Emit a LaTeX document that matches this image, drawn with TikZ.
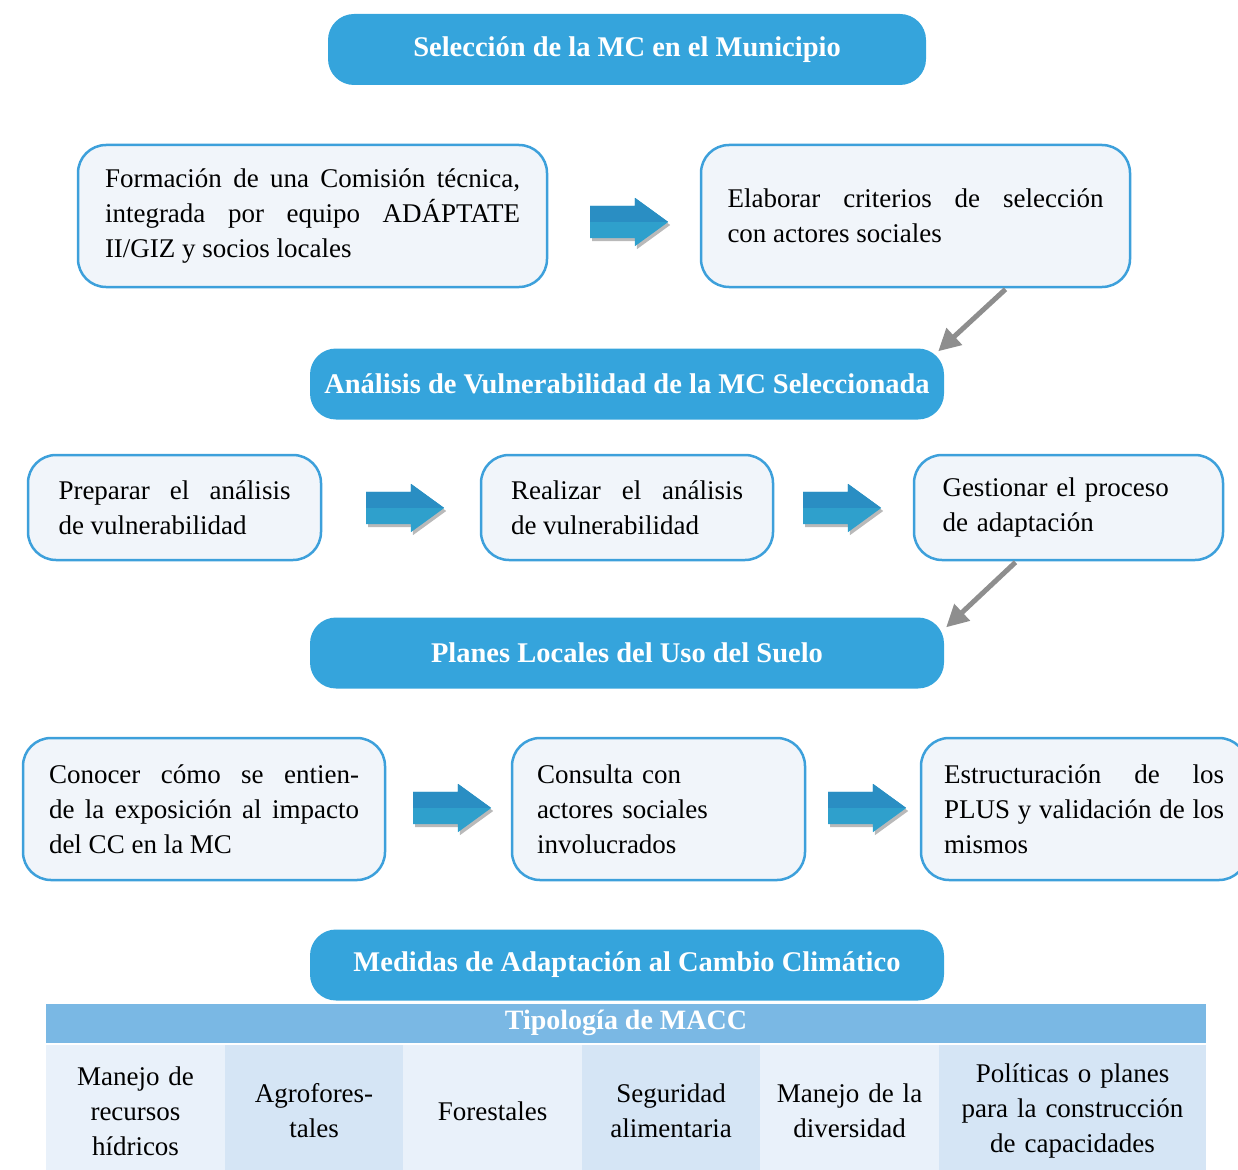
\documentclass[tikz,border=0pt]{standalone}
\usepackage{fontspec}
\setmainfont{Liberation Serif}
\usetikzlibrary{shapes.arrows,arrows.meta,shadows}
\definecolor{hdr}{HTML}{35A4DC}
\definecolor{bdr}{HTML}{3DA0DB}
\definecolor{boxfill}{HTML}{F1F5FA}
\definecolor{arrtop}{HTML}{2A8EC3}
\definecolor{arrbot}{HTML}{2FA0CC}
\definecolor{gline}{HTML}{8E8E8E}
\definecolor{thead}{HTML}{7AB8E4}
\definecolor{cellA}{HTML}{E9F1FA}
\definecolor{cellB}{HTML}{D5E5F5}
\begin{document}
\begin{tikzpicture}[x=1pt,y=-1pt,
  hdrbox/.style={fill=hdr, text=white, rounded corners=26pt, minimum width=#1,
    minimum height=71pt, inner sep=0pt, font=\fontsize{28.5}{32}\selectfont\bfseries},
  stepbox/.style n args={4}{draw=bdr, line width=2.5pt, fill=boxfill, rounded corners=28pt,
    minimum width=#1, minimum height=#2, text width=#3, inner sep=0pt, align=#4,
    font=\fontsize{27}{35}\selectfont},
  blockarrow/.style={shape=single arrow, anchor=tail, minimum height=78pt, minimum width=0pt,
    inner xsep=0pt, inner ysep=16pt, single arrow head extend=8pt,
    single arrow tip angle=72, single arrow head indent=0pt, fill=arrbot,
    path picture={\fill[arrtop] (path picture bounding box.north west) rectangle (path picture bounding box.east);},
    general shadow={fill=gray!55, shadow xshift=2pt, shadow yshift=-3pt}},
  gconn/.style={draw=gline, line width=5pt, -{Triangle[length=22pt,width=22pt]}},
  cell/.style 2 args={fill=#2, minimum width=#1, minimum height=132pt, inner sep=0pt,
    text width=#1-8pt, align=center, font=\fontsize{27}{35}\selectfont},
  thdr/.style={fill=thead, text=white, minimum width=1160pt, minimum height=39pt,
    inner sep=0pt, font=\fontsize{28}{30}\selectfont\bfseries}
]
\useasboundingbox (0,0) rectangle (1238,1169);

% headers
\node[hdrbox=598pt] (H1) at (627,49.5) {Selección de la MC en el Municipio};
\node[hdrbox=634pt] (H2) at (627,384) {Análisis de Vulnerabilidad de la MC Seleccionada};
\node[hdrbox=634pt] (H3) at (627,653) {Planes Locales del Uso del Suelo};
\node[hdrbox=634pt] (H4) at (627,965) {Medidas de Adaptación al Cambio Climático};

% row 1
\node[stepbox={469pt}{142pt}{415pt}{justify}] (A) at (312.5,216)
  {Formación de una Comisión técnica,\linebreak integrada por equipo ADÁPTATE\linebreak II/GIZ y socios locales};
\node[stepbox={429pt}{142pt}{376pt}{justify}] (B) at (915.5,216)
  {Elaborar criterios de selección\linebreak con actores sociales};
\node[blockarrow] (a1) at (590,222) {};

% row 2
\node[stepbox={293pt}{105pt}{232pt}{justify}] (C) at (174.5,507.5)
  {Preparar el análisis\linebreak de vulnerabilidad};
\node[stepbox={292pt}{105pt}{232pt}{justify}] (D) at (627,507.5)
  {Realizar el análisis\linebreak de vulnerabilidad};
\node[stepbox={309pt}{105pt}{252pt}{left}] (E) at (1068.5,507.5)
  {Gestionar el proceso\\de adaptación};
\node[blockarrow] (a2) at (366,508) {};
\node[blockarrow] (a3) at (803,508) {};

% row 3
\node[stepbox={362pt}{142pt}{310pt}{justify}] (F) at (204,809)
  {Conocer cómo se entien-\linebreak de la exposición al impacto\linebreak del CC en la MC};
\node[stepbox={293pt}{142pt}{243pt}{left}] (G) at (658.5,809)
  {Consulta con\\actores sociales\\involucrados};
\node[stepbox={326pt}{142pt}{280pt}{justify}] (H) at (1084,809)
  {Estructuración de los\linebreak PLUS y validación de los\linebreak mismos};
\node[blockarrow] (a4) at (413,808) {};
\node[blockarrow] (a5) at (828,808) {};

% gray connectors
\draw[gconn] ([xshift=90pt,yshift=-1pt]B.south) -- ([xshift=-6pt,yshift=-3pt]H2.north east);
\draw[gconn] ([xshift=-53pt,yshift=-1pt]E.south) -- ([xshift=2pt,yshift=-10pt]H3.north east);

% table
\node[thdr] (T) at (626,1023) {Tipología de MACC};
\node[cell={179pt}{cellA}] (t1) at (135.5,1111) {Manejo de\\recursos\\hídricos};
\node[cell={178pt}{cellB}] (t2) at (314,1111) {Agrofores-\\tales};
\node[cell={179pt}{cellA}] (t3) at (492.5,1111) {Forestales};
\node[cell={178pt}{cellB}] (t4) at (671,1111) {Seguridad\\alimentaria};
\node[cell={179pt}{cellA}] (t5) at (849.5,1111) {Manejo de la\\diversidad};
\node[cell={267pt}{cellB}] (t6) at (1072.5,1111) {Políticas o planes\\para la construcción\\de capacidades};
\end{tikzpicture}
\end{document}
